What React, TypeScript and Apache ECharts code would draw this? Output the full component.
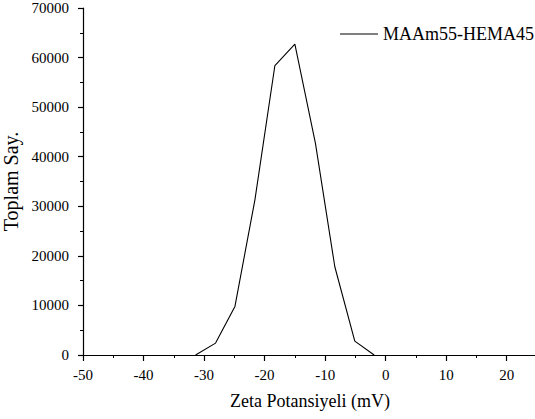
import React, { useEffect, useRef } from "react";
import * as echarts from "echarts";

const seriesName = "MAAm55-HEMA45";
const zetaValues = [-31.4, -28.1, -24.9, -21.6, -18.3, -15.0, -11.6, -8.4, -5.1, -1.9];
const countValues = [0, 2400, 9800, 31300, 58400, 62700, 42700, 17800, 2800, 0];
const xTitle = "Zeta Potansiyeli (mV)";
const yTitle = "Toplam Say.";

export default function App() {
  const ref = useRef<HTMLDivElement>(null);
  useEffect(() => {
    if (!ref.current) return;
    const chart = echarts.init(ref.current, null, { renderer: "svg" });
    const font = "Liberation Serif";
    chart.setOption({
      animation: false,
      backgroundColor: "#ffffff",
      textStyle: { fontFamily: font, color: "#000" },
      grid: {
        left: 83,
        top: 8,
        width: 454,
        height: 347,
        containLabel: false,
        outerBoundsMode: "none",
      },
      legend: {
        data: [{ name: seriesName, icon: "rect" }],
        left: 335,
        top: 20,
        itemWidth: 38,
        itemHeight: 1.2,
        itemStyle: { color: "#000" },
        textStyle: { fontFamily: font, fontSize: 18, color: "#000" },
      },
      xAxis: {
        type: "value",
        min: -50,
        max: 25,
        interval: 10,
        name: xTitle,
        nameLocation: "middle",
        nameGap: 37,
        nameTextStyle: { fontFamily: font, fontSize: 18, color: "#000" },
        axisLine: { show: true, onZero: false, lineStyle: { color: "#000", width: 1.2 } },
        axisTick: { show: true, inside: false, length: 6, lineStyle: { color: "#000", width: 1.2 } },
        minorTick: { show: true, splitNumber: 2, length: 3, lineStyle: { color: "#000", width: 1 } },
        axisLabel: {
          fontFamily: font,
          fontSize: 15,
          color: "#000",
          margin: 12,
          formatter: (v: number) => (v === 25 ? "" : String(v)),
        },
        splitLine: { show: false },
      },
      yAxis: {
        type: "value",
        min: 0,
        max: 70000,
        interval: 10000,
        name: yTitle,
        nameLocation: "middle",
        nameGap: 46,
        nameTextStyle: { fontFamily: font, fontSize: 20, color: "#000" },
        axisLine: { show: true, onZero: false, lineStyle: { color: "#000", width: 1.2 } },
        axisTick: { show: true, inside: false, length: 5, lineStyle: { color: "#000", width: 1.2 } },
        minorTick: { show: true, splitNumber: 2, length: 3, lineStyle: { color: "#000", width: 1 } },
        axisLabel: {
          fontFamily: font,
          fontSize: 15,
          color: "#000",
          margin: 14,
          formatter: (v: number) => String(v),
        },
        splitLine: { show: false },
      },
      series: [
        {
          name: seriesName,
          type: "line",
          symbol: "none",
          data: zetaValues.map((x, i) => [x, countValues[i]]),
          lineStyle: { color: "#000", width: 1.1 },
          itemStyle: { color: "#000" },
        },
      ],
    });
    return () => chart.dispose();
  }, []);
  return (
    <div
      ref={ref}
      style={{ position: "absolute", left: 0, top: 0, width: 535, height: 419 }}
    />
  );
}
